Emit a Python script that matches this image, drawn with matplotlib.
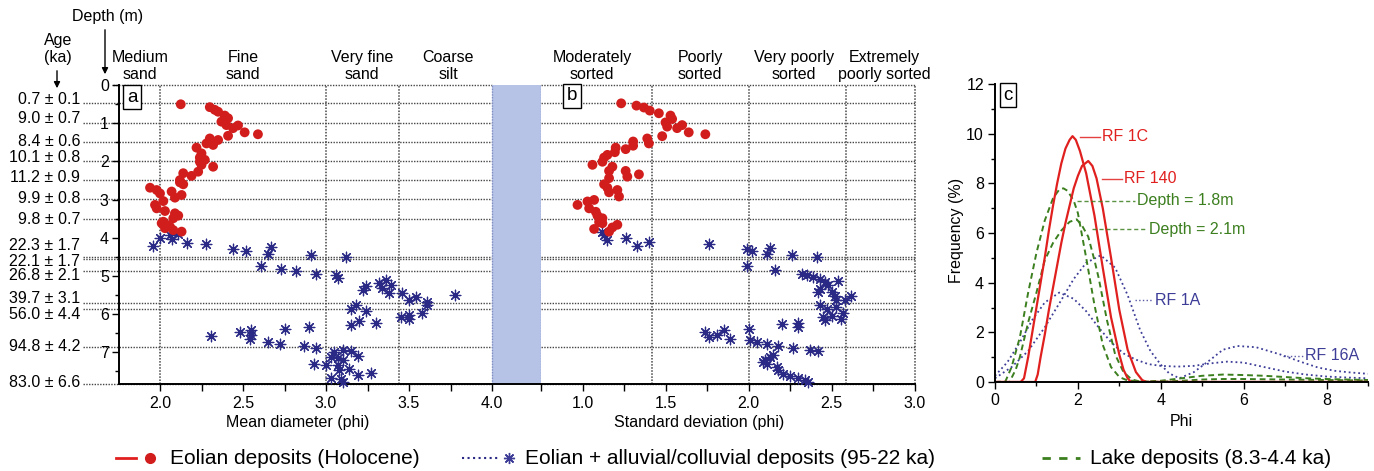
import matplotlib
matplotlib.use('Agg')
import matplotlib.pyplot as plt
from matplotlib.lines import Line2D
from matplotlib.patches import FancyArrowPatch

plt.rcParams['font.family'] = ['Liberation Sans', 'DejaVu Sans']

# ---------------- data ----------------
ages = ["0.7 ± 0.1", "9.0 ± 0.7", "8.4 ± 0.6", "10.1 ± 0.8", "11.2 ± 0.9", "9.9 ± 0.8",
        "9.8 ± 0.7", "22.3 ± 1.7", "22.1 ± 1.7", "26.8 ± 2.1", "39.7 ± 3.1", "56.0 ± 4.4",
        "94.8 ± 4.2", "83.0 ± 6.6"]
age_depths = [0.48, 0.99, 1.49, 1.99, 2.49, 2.98, 3.51, 4.50, 4.55, 4.86, 5.72, 5.87, 6.86, 7.83]
age_label_depths = [0.39, 0.89, 1.49, 1.91, 2.43, 2.98, 3.51, 4.19, 4.61, 5.0, 5.58, 6.02, 6.86, 7.8]

size_classes = ["Medium\nsand", "Fine\nsand", "Very fine\nsand", "Coarse\nsilt"]
size_bounds = [2.0, 3.0, 3.44]
sort_classes = ["Moderately\nsorted", "Poorly\nsorted", "Very poorly\nsorted", "Extremely\npoorly sorted"]
sort_bounds = [1.42, 2.0, 2.59, 3.0]

a_red_phi = [2.125, 2.30, 2.33, 2.35, 2.39, 2.41, 2.37, 2.40, 2.44, 2.47,
             2.51, 2.59, 2.41, 2.30, 2.35, 2.32, 2.28, 2.22, 2.25, 2.24,
             2.27, 2.32, 2.25, 2.23, 2.19, 2.14, 2.12, 2.14, 2.12, 1.94,
             1.98, 2.00, 2.07, 2.13, 2.09, 2.02, 1.97, 1.98, 2.03, 2.09,
             2.11, 2.08, 2.02, 2.04, 2.01, 2.06, 2.13, 2.08, 2.03, 2.24]
a_red_depth = [0.505, 0.58, 0.65, 0.70, 0.80, 0.87, 0.96, 1.05, 1.13, 1.06,
               1.24, 1.29, 1.33, 1.40, 1.44, 1.57, 1.53, 1.64, 1.79, 1.90,
               1.96, 2.14, 2.09, 2.27, 2.38, 2.31, 2.49, 2.60, 2.55, 2.69,
               2.75, 2.84, 2.79, 2.88, 2.95, 3.04, 3.14, 3.23, 3.30, 3.36,
               3.42, 3.49, 3.58, 3.66, 3.62, 3.71, 3.84, 3.80, 3.75, 2.01]

a_blue_phi = [1.956, 2.00, 2.07, 2.06, 2.11, 2.16, 2.28, 2.44, 2.52, 2.67,
              2.65, 2.91, 3.12, 2.61, 2.73, 2.82, 2.94, 3.06, 3.07, 3.22,
              3.24, 3.32, 3.36, 3.39, 3.34, 3.38, 3.46, 3.50, 3.54, 3.61,
              3.61, 3.78, 3.15, 3.18, 3.24, 3.15, 3.20, 3.30, 3.45, 3.50,
              3.50, 3.58, 2.31, 2.48, 2.55, 2.55, 2.54, 2.65, 2.72, 2.75,
              2.90, 2.87, 2.94, 2.93, 3.00, 3.03, 3.05, 3.10, 3.15, 3.19,
              3.07, 3.10, 3.08, 3.14, 3.03, 3.09, 3.10, 3.19, 3.27, 3.07]
a_blue_depth = [4.21, 4.00, 4.04, 3.92, 3.89, 4.13, 4.17, 4.30, 4.35, 4.24,
                4.42, 4.46, 4.51, 4.75, 4.81, 4.87, 4.94, 4.97, 5.05, 5.37,
                5.26, 5.18, 5.11, 5.23, 5.31, 5.44, 5.46, 5.64, 5.55, 5.68,
                5.75, 5.51, 5.87, 5.77, 5.92, 6.29, 6.18, 6.22, 6.07, 6.01,
                6.13, 5.98, 6.58, 6.48, 6.42, 6.55, 6.66, 6.73, 6.77, 6.38,
                6.34, 6.83, 6.88, 7.30, 7.34, 7.12, 6.99, 6.95, 6.97, 7.09,
                7.16, 7.21, 7.47, 7.43, 7.67, 7.69, 7.79, 7.60, 7.54, 7.34]

b_red_sd = [1.233, 1.325, 1.37, 1.405, 1.46, 1.53, 1.54, 1.50, 1.51, 1.60,
            1.57, 1.64, 1.74, 1.48, 1.39, 1.40, 1.305, 1.305, 1.26, 1.20,
            1.195, 1.15, 1.13, 1.12, 1.06, 1.18, 1.16, 1.26, 1.27, 1.34,
            1.16, 1.13, 1.15, 1.16, 1.21, 1.22, 1.07, 1.03, 0.97, 1.04,
            1.08, 1.09, 1.12, 1.10, 1.21, 1.18, 1.07, 1.16, 1.12]
b_red_depth = [0.48, 0.54, 0.59, 0.67, 0.74, 0.80, 0.89, 0.98, 1.09, 1.05,
               1.13, 1.24, 1.29, 1.34, 1.40, 1.53, 1.48, 1.59, 1.68, 1.64,
               1.76, 1.83, 1.90, 2.01, 2.09, 2.14, 2.25, 2.25, 2.40, 2.34,
               2.44, 2.60, 2.69, 2.81, 2.75, 2.92, 3.01, 3.05, 3.14, 3.23,
               3.32, 3.42, 3.49, 3.59, 3.66, 3.73, 3.77, 3.84, 3.62]

b_blue_sd = [1.13, 1.15, 1.12, 1.26, 1.33, 1.40, 1.765, 1.99, 2.02, 2.11,
             2.13, 2.26, 2.41, 1.99, 2.16, 2.32, 2.35, 2.39, 2.43, 2.46,
             2.48, 2.54, 2.43, 2.42, 2.50, 2.52, 2.53, 2.58, 2.62, 2.43,
             2.47, 2.53, 2.57, 2.45, 2.46, 2.50, 2.56, 2.20, 2.30, 2.30,
             2.00, 1.74, 1.76, 1.81, 1.85, 1.89, 2.01, 2.05, 2.11, 2.18,
             2.27, 2.37, 2.42, 2.15, 2.13, 2.10, 2.09, 2.11, 2.17, 2.18,
             2.21, 2.25, 2.30, 2.34, 2.36]
b_blue_depth = [3.94, 4.07, 3.85, 4.00, 4.21, 4.11, 4.16, 4.30, 4.35, 4.42,
                4.26, 4.46, 4.51, 4.75, 4.85, 4.94, 4.98, 5.03, 5.09, 5.16,
                5.24, 5.13, 5.33, 5.42, 5.42, 5.52, 5.64, 5.64, 5.52, 5.75,
                5.87, 5.81, 5.96, 6.07, 6.16, 6.05, 6.13, 6.27, 6.24, 6.34,
                6.38, 6.47, 6.60, 6.54, 6.42, 6.64, 6.68, 6.73, 6.77, 6.84,
                6.88, 6.93, 6.97, 7.06, 7.12, 7.19, 7.25, 7.30, 7.38, 7.47,
                7.56, 7.62, 7.67, 7.73, 7.78]

# grain-size distribution curves (panel c)
phi_1c = [0, 0.62, 0.7, 0.8, 0.9, 1.0, 1.1, 1.2, 1.3, 1.4, 1.5, 1.6, 1.7, 1.8, 1.87,
          1.95, 2.05, 2.2, 2.4, 2.6, 2.8, 3.0, 3.1, 3.2, 3.28, 9.0]
freq_1c = [0, 0, 0.15, 1.0, 2.0, 3.0, 4.0, 5.0, 6.1, 7.1, 8.0, 8.8, 9.4, 9.75, 9.9,
           9.75, 9.3, 8.4, 6.7, 4.6, 2.6, 1.1, 0.5, 0.15, 0, 0]
phi_140 = [0, 0.97, 1.03, 1.1, 1.2, 1.3, 1.4, 1.5, 1.6, 1.7, 1.8, 1.9, 2.0, 2.1, 2.25,
           2.35, 2.45, 2.6, 2.8, 3.0, 3.2, 3.4, 3.55, 3.65, 9.0]
freq_140 = [0, 0, 0.3, 1.0, 1.9, 2.9, 3.8, 4.7, 5.6, 6.4, 7.1, 7.8, 8.3, 8.7, 8.9,
            8.7, 8.2, 7.0, 5.0, 2.9, 1.3, 0.4, 0.08, 0, 0]
phi_d18 = [0, 0.25, 0.4, 0.6, 0.8, 1.0, 1.2, 1.4, 1.55, 1.65, 1.75, 1.9, 2.0, 2.2, 2.4,
           2.6, 2.8, 3.0, 3.2, 3.6, 4.0, 4.5, 5.0, 5.5, 6.0, 6.5, 7.0, 7.5, 8.0, 9.0]
freq_d18 = [0, 0.02, 0.6, 1.8, 3.6, 5.2, 6.5, 7.4, 7.75, 7.8, 7.7, 7.3, 6.8, 5.0, 3.1,
            1.5, 0.6, 0.2, 0.06, 0.02, 0.05, 0.15, 0.25, 0.3, 0.28, 0.25, 0.2, 0.15, 0.12, 0.08]
phi_d21 = [0, 0.35, 0.5, 0.6, 0.8, 1.0, 1.2, 1.4, 1.6, 1.8, 1.97, 2.1, 2.25, 2.4, 2.5,
           2.7, 2.9, 3.1, 3.3, 3.5, 4.0, 4.5, 5.0, 5.5, 6.0, 7.0, 8.0, 9.0]
freq_d21 = [0, 0, 0.5, 1.0, 2.4, 3.6, 4.9, 5.6, 6.1, 6.45, 6.55, 6.3, 5.85, 4.9, 4.2,
            2.5, 1.1, 0.4, 0.1, 0.02, 0.01, 0.05, 0.1, 0.12, 0.12, 0.1, 0.08, 0.06]
phi_1a = [0, 0.3, 0.6, 0.9, 1.2, 1.55, 1.9, 2.2, 2.5, 2.8, 3.1, 3.4, 3.7, 4.0, 4.4,
          4.8, 5.2, 5.6, 6.0, 6.5, 7.0, 7.5, 8.0, 8.5, 9.0]
freq_1a = [0.25, 0.8, 1.6, 2.5, 3.2, 3.6, 3.35, 2.85, 2.2, 1.6, 1.15, 0.9, 0.72, 0.65, 0.62,
           0.65, 0.75, 0.82, 0.78, 0.6, 0.42, 0.3, 0.22, 0.18, 0.15]
phi_16a = [0, 0.4, 0.8, 1.2, 1.6, 1.9, 2.2, 2.55, 2.9, 3.2, 3.5, 3.75, 4.0, 4.2, 4.45,
           4.8, 5.2, 5.5, 5.85, 6.3, 6.9, 7.4, 7.8, 8.2, 8.6, 9.0]
freq_16a = [0.15, 0.6, 1.25, 2.2, 3.3, 4.15, 4.8, 5.1, 4.6, 3.5, 2.1, 1.25, 0.7, 0.35, 0.15,
            0.4, 0.9, 1.3, 1.45, 1.4, 1.1, 0.8, 0.58, 0.45, 0.38, 0.33]

# ---------------- styling ----------------
RED = '#e0201f'
DOT = '#d21d1d'
BLUE = '#2a2a86'
BLUEL = '#3d3d98'
GREEN = '#3c7f1f'
GRID = '#454545'
BAND = '#b7c2e7'
FS = 11.5

W, H = 1374, 471
fig = plt.figure(figsize=(W / 100, H / 100), dpi=100)


def fbox(l, t, r, b):
    return [l / W, 1 - b / H, (r - l) / W, (b - t) / H]


def fxy(x, y):
    return x / W, 1 - y / H


ax_a = fig.add_axes(fbox(118.5, 85, 492, 384))
ax_band = fig.add_axes(fbox(492, 85, 541, 384))
ax_b = fig.add_axes(fbox(541, 85, 914.5, 384))
ax_c = fig.add_axes(fbox(995, 84, 1368, 382))

DEPTH_MAX = 7.83
for ax in (ax_a, ax_band, ax_b):
    ax.set_ylim(DEPTH_MAX, 0)
    for s in ('top', 'right', 'left'):
        ax.spines[s].set_visible(False)
    ax.spines['bottom'].set_linewidth(1.4)

ax_a.spines['left'].set_visible(True)
ax_a.spines['left'].set_linewidth(1.4)
ax_a.set_xlim(1.75, 4.0)
ax_b.set_xlim(0.75, 3.0)
ax_band.set_xlim(0, 1)

ax_band.set_facecolor(BAND)
ax_band.set_xticks([])
ax_band.set_yticks([])
for xv in (0, 1):
    ax_band.axvline(xv, color='#7f8fc0', ls=(0, (1, 1)), lw=1, clip_on=False)

dotted = (0, (1, 1))

# vertical class boundaries
for v in size_bounds:
    ax_a.axvline(v, color=GRID, ls=dotted, lw=1.1, zorder=1)
for v in sort_bounds:
    ax_b.axvline(v, color=GRID, ls=dotted, lw=1.1, zorder=1, clip_on=False)

# horizontal age lines
xl = (83 - 118.5) / (492 - 118.5)
for d in age_depths:
    ax_a.plot([xl, 1], [d, d], transform=ax_a.get_yaxis_transform(), color=GRID,
              ls=dotted, lw=1.0, clip_on=False, zorder=1)
    ax_b.plot([0, 1], [d, d], transform=ax_b.get_yaxis_transform(), color=GRID,
              ls=dotted, lw=1.0, clip_on=False, zorder=1)
ax_a.plot([(113 - 118.5) / 373.5, 1], [0, 0], transform=ax_a.get_yaxis_transform(),
          color=GRID, ls=dotted, lw=1.0, clip_on=False, zorder=1)
ax_b.plot([0, 1], [0, 0], transform=ax_b.get_yaxis_transform(),
          color=GRID, ls=dotted, lw=1.0, clip_on=False, zorder=1)

for lab, d in zip(ages, age_label_depths):
    ax_a.text((80 - 118.5) / 373.5, d, lab, transform=ax_a.get_yaxis_transform(),
              ha='right', va='center', fontsize=FS, clip_on=False)

# scatter
ast = (8, 2, 0)
ax_a.scatter(a_blue_phi, a_blue_depth, marker=ast, s=58, color=BLUE, linewidths=0.9,
             zorder=3, clip_on=False)
ax_a.scatter(a_red_phi, a_red_depth, marker='o', s=50, color=DOT, edgecolors='none',
             zorder=4, clip_on=False)
ax_b.scatter(b_blue_sd, b_blue_depth, marker=ast, s=58, color=BLUE, linewidths=0.9,
             zorder=3, clip_on=False)
ax_b.scatter(b_red_sd, b_red_depth, marker='o', s=50, color=DOT, edgecolors='none',
             zorder=4, clip_on=False)

# ticks
ax_a.set_xticks([2.0, 2.5, 3.0, 3.5, 4.0])
ax_a.set_xticklabels(['2.0', '2.5', '3.0', '3.5', '4.0'])
ax_a.set_xticks([2.25, 2.75, 3.25, 3.75], minor=True)
ax_a.set_yticks(range(0, 8))
ax_a.set_yticks([0.5, 1.5, 2.5, 3.5, 4.5, 5.5, 6.5, 7.5], minor=True)
ax_a.tick_params(axis='x', which='both', direction='out', length=5, width=1, labelsize=FS, pad=4)
ax_a.tick_params(axis='y', which='major', direction='out', length=5, width=1, labelsize=FS, pad=2)
ax_a.tick_params(axis='y', which='minor', direction='out', length=3, width=1)

ax_b.set_xticks([1.0, 1.5, 2.0, 2.5, 3.0])
ax_b.set_xticklabels(['1.0', '1.5', '2.0', '2.5', '3.0'])
ax_b.set_xticks([0.75, 1.25, 1.75, 2.25, 2.75], minor=True)
ax_b.set_yticks([])
ax_b.tick_params(axis='x', which='both', direction='out', length=5, width=1, labelsize=FS, pad=4)

# panel c
ax_c.plot(phi_16a, freq_16a, color=BLUEL, ls=':', lw=1.3)
ax_c.plot(phi_1a, freq_1a, color=BLUEL, ls=':', lw=1.3)
ax_c.plot(phi_d21, freq_d21, color=GREEN, ls=(0, (3, 2)), lw=1.4)
ax_c.plot(phi_d18, freq_d18, color=GREEN, ls=(0, (3, 2)), lw=1.4)
ax_c.plot(phi_140, freq_140, color=RED, lw=1.6)
ax_c.plot(phi_1c, freq_1c, color=RED, lw=1.6)
ax_c.set_xlim(0, 9)
ax_c.set_ylim(0, 12)
ax_c.spines['top'].set_visible(False)
ax_c.spines['right'].set_visible(False)
ax_c.spines['left'].set_linewidth(1.4)
ax_c.spines['bottom'].set_linewidth(1.4)
ax_c.set_xticks([0, 2, 4, 6, 8])
ax_c.set_xticks([1, 3, 5, 7, 9], minor=True)
ax_c.set_yticks(range(0, 13, 2))
ax_c.set_yticks(range(1, 12, 2), minor=True)
ax_c.tick_params(which='major', direction='out', length=5, width=1, labelsize=FS, pad=3)
ax_c.tick_params(which='minor', direction='out', length=3, width=1)

curve_labels = [
    ("RF 1C", 2.05, 2.53, 9.87, RED, '-'),
    ("RF 140", 2.58, 3.06, 8.18, RED, '-'),
    ("Depth = 1.8m", 1.97, 3.37, 7.3, GREEN, (0, (3, 2))),
    ("Depth = 2.1m", 2.33, 3.66, 6.16, GREEN, (0, (3, 2))),
    ("RF 1A", 3.37, 3.81, 3.3, BLUEL, ':'),
    ("RF 16A", 6.94, 7.42, 1.06, BLUEL, ':'),
]
for lab, x0, x1, yv, col, ls in curve_labels:
    ax_c.plot([x0, x1], [yv, yv], color=col, ls=ls, lw=1.0, alpha=0.85)
    ax_c.text(x1 + 0.05, yv, lab, color=col, fontsize=FS, ha='left', va='center')

# panel letters
box = dict(boxstyle='square,pad=0.18', facecolor='white', edgecolor='black', lw=1)
for txt, (px, py) in zip(['a', 'b', 'c'], [(132, 97), (572, 96), (1008, 95)]):
    fig.text(*fxy(px, py), txt, fontsize=13.5, ha='center', va='center', bbox=box)

# class labels
for lab, px in zip(size_classes, [140, 243, 362, 448]):
    fig.text(*fxy(px, 66), lab, fontsize=FS, ha='center', va='center',
             multialignment='center', linespacing=1.12)
for lab, px in zip(sort_classes, [592, 700, 794, 884]):
    fig.text(*fxy(px, 66), lab, fontsize=FS, ha='center', va='center',
             multialignment='center', linespacing=1.12)

fig.text(*fxy(108, 17), "Depth (m)", fontsize=FS, ha='center', va='center')
fig.text(*fxy(58, 49), "Age\n(ka)", fontsize=FS, ha='center', va='center',
         multialignment='center', linespacing=1.12)
for (x0, y0), (x1, y1) in [((105, 27), (105, 77)), ((57, 68), (57, 91))]:
    fig.add_artist(FancyArrowPatch(fxy(x0, y0), fxy(x1, y1), transform=fig.transFigure,
                                   arrowstyle='-|>', mutation_scale=9, lw=1, color='k'))

# axis titles
fig.text(*fxy(298, 422), "Mean diameter (phi)", fontsize=FS, ha='center', va='center')
fig.text(*fxy(699, 422), "Standard deviation (phi)", fontsize=FS, ha='center', va='center')
fig.text(*fxy(1181, 422), "Phi", fontsize=FS, ha='center', va='center')
fig.text(*fxy(957, 230), "Frequency (%)", fontsize=FS, ha='center', va='center', rotation=90)

# legend (manual)
LY = 458
fig.add_artist(Line2D([116 / W, 136 / W], [1 - LY / H] * 2, color=RED, lw=2))
fig.add_artist(Line2D([150 / W], [1 - LY / H], marker='o', ms=7, color=DOT, lw=0))
fig.text(*fxy(170, LY), "Eolian deposits (Holocene)", fontsize=15, ha='left', va='center')
fig.add_artist(Line2D([462 / W, 500 / W], [1 - LY / H] * 2, color=BLUE, lw=1.5, ls=':'))
fig.add_artist(Line2D([509 / W], [1 - LY / H], marker=ast, ms=8, color=BLUEL, lw=0, mew=1))
fig.text(*fxy(525, LY), "Eolian + alluvial/colluvial deposits (95-22 ka)", fontsize=15,
         ha='left', va='center')
fig.add_artist(Line2D([1042 / W, 1080 / W], [1 - LY / H] * 2, color=GREEN, lw=2, ls=(0, (3, 3))))
fig.text(*fxy(1090, LY), "Lake deposits (8.3-4.4 ka)", fontsize=15, ha='left', va='center')

fig.savefig('out.png', dpi=100)
